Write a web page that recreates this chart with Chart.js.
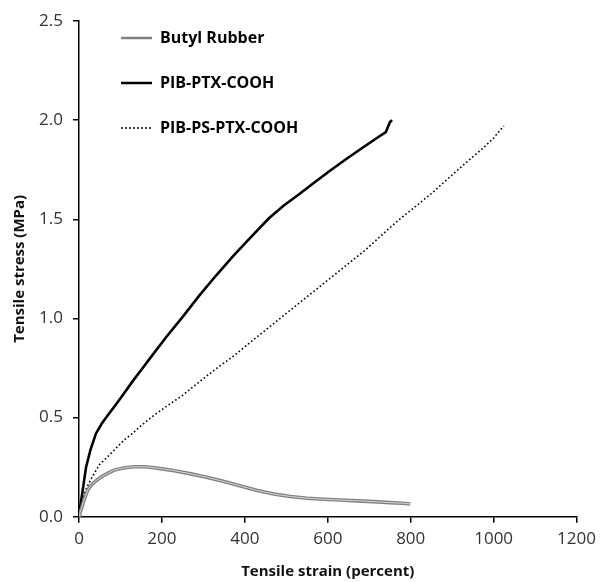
<!DOCTYPE html>
<html lang="en">
  <head>
    <meta charset="UTF-8" />
    <title>Tensile stress vs strain</title>
    <script src="https://cdn.jsdelivr.net/npm/chart.js"></script>
    <style>
      html, body { margin: 0; padding: 0; background: #fff; }
      .wrap { width: 602px; height: 582px; }
    </style>
  </head>
  <body>
    <div class="wrap"><canvas id="stressChart"></canvas></div>

    <script>
      // series names
      const seriesNames = ["Butyl Rubber", "PIB-PTX-COOH", "PIB-PS-PTX-COOH"];

      // Butyl Rubber (strain %, stress MPa)
      const butylStrain = [0, 2, 5, 10, 15, 21, 30, 40, 53, 70, 85, 110, 133, 160, 181, 205, 230, 270, 310, 350, 390, 430, 470, 510, 550, 590, 630, 670, 710, 750, 780, 799];
      const butylStress = [0, 0.02, 0.034, 0.07, 0.1, 0.135, 0.16, 0.18, 0.2, 0.22, 0.235, 0.247, 0.252, 0.252, 0.247, 0.24, 0.232, 0.216, 0.198, 0.177, 0.155, 0.132, 0.114, 0.102, 0.093, 0.088, 0.084, 0.08, 0.076, 0.071, 0.068, 0.064];

      // PIB-PTX-COOH
      const ptxStrain = [0, 3, 8, 17, 28, 41, 55, 69, 85, 101, 130, 150, 177, 210, 250, 290, 330, 370, 410, 458, 494, 530, 566, 602, 642, 682, 722, 740, 750, 755];
      const ptxStress = [0, 0.05, 0.12, 0.25, 0.34, 0.42, 0.47, 0.51, 0.555, 0.6, 0.685, 0.74, 0.815, 0.905, 1.008, 1.115, 1.215, 1.31, 1.4, 1.505, 1.57, 1.625, 1.683, 1.74, 1.8, 1.858, 1.915, 1.94, 1.99, 2.0];

      // PIB-PS-PTX-COOH
      const psStrain = [0, 5, 13, 24, 37, 49, 69, 89, 109, 129, 150, 180, 210, 250, 290, 330, 370, 410, 450, 490, 530, 570, 610, 650, 690, 730, 770, 810, 850, 890, 931, 975, 1000, 1019, 1025];
      const psStress = [0, 0.05, 0.118, 0.17, 0.219, 0.262, 0.302, 0.345, 0.387, 0.42, 0.46, 0.51, 0.555, 0.612, 0.68, 0.745, 0.806, 0.874, 0.941, 1.008, 1.076, 1.143, 1.21, 1.277, 1.344, 1.42, 1.495, 1.562, 1.63, 1.705, 1.781, 1.86, 1.91, 1.958, 1.97];

      // axis ticks
      const xTicks = [0, 200, 400, 600, 800, 1000, 1200];
      const yTicks = [0, 0.5, 1.0, 1.5, 2.0, 2.5];

      const toPoints = (xs, ys) => xs.map((x, i) => ({ x: x, y: ys[i] }));

      const fontFamily = "'Open Sans', sans-serif";

      // moves the legend to the top-left corner of the plot
      const legendSpot = {
        id: "legendSpot",
        afterLayout(chart) {
          const lg = chart.legend;
          const pad = lg.options.labels.padding;
          lg.left = 121 - pad;
          lg.top = 30 - pad;
        },
      };

      const ctx = document.getElementById("stressChart").getContext("2d");
      const stressChart = new Chart(ctx, {
        type: "line",
        data: {
          datasets: [
            {
              // light core of the butyl double line
              label: "",
              data: toPoints(butylStrain, butylStress),
              borderColor: "#d6d6d6",
              borderWidth: 1,
              pointRadius: 0,
            },
            {
              label: seriesNames[0],
              data: toPoints(butylStrain, butylStress),
              borderColor: "#808080",
              borderWidth: 3.6,
              pointRadius: 0,
            },
            {
              label: seriesNames[1],
              data: toPoints(ptxStrain, ptxStress),
              borderColor: "#000000",
              borderWidth: 2.6,
              pointRadius: 0,
            },
            {
              label: seriesNames[2],
              data: toPoints(psStrain, psStress),
              borderColor: "#000000",
              borderWidth: 1.6,
              borderDash: [1.6, 2.4],
              pointRadius: 0,
            },
          ],
        },
        options: {
          responsive: true,
          maintainAspectRatio: false,
          animation: false,
          layout: {
            padding: { left: 0, top: 21, right: 24, bottom: 0 },
          },
          plugins: {
            tooltip: { enabled: false },
            legend: {
              position: "chartArea",
              align: "start",
              labels: {
                boxWidth: 31,
                boxHeight: 0,
                padding: 29,
                color: "#000",
                font: { family: fontFamily, size: 16, weight: "bold" },
                filter: (item) => item.datasetIndex !== 0,
                generateLabels(chart) {
                  const items = Chart.defaults.plugins.legend.labels.generateLabels(chart);
                  items.forEach((it) => {
                    it.fillStyle = "rgba(0,0,0,0)";
                    if (it.datasetIndex === 1) it.lineWidth = 2.4;
                    if (it.datasetIndex === 2) it.lineWidth = 2.4;
                    if (it.datasetIndex === 3) it.lineWidth = 1.4;
                  });
                  return items;
                },
              },
            },
          },
          scales: {
            x: {
              type: "linear",
              min: 0,
              max: 1200,
              afterBuildTicks(scale) {
                scale.ticks = xTicks.map((v) => ({ value: v }));
              },
              afterFit(scale) {
                scale.height = 65.3;
              },
              border: { color: "#000", width: 1.5 },
              grid: {
                drawOnChartArea: false,
                drawTicks: true,
                tickLength: 6,
                color: "#000",
                lineWidth: 1.5,
              },
              ticks: {
                padding: 6,
                color: "#333",
                font: { family: fontFamily, size: 17 },
                callback: (v) => String(v),
              },
              title: {
                display: true,
                text: "Tensile strain (percent)",
                color: "#111",
                font: { family: fontFamily, size: 15, weight: "bold" },
                padding: { top: 0, bottom: 1 },
              },
            },
            y: {
              type: "linear",
              min: 0,
              max: 2.5,
              afterBuildTicks(scale) {
                scale.ticks = yTicks.map((v) => ({ value: v }));
              },
              afterFit(scale) {
                scale.width = 79;
              },
              border: { color: "#000", width: 1.5 },
              grid: {
                drawOnChartArea: false,
                drawTicks: true,
                tickLength: 6,
                color: "#000",
                lineWidth: 1.5,
              },
              ticks: {
                padding: 10,
                color: "#333",
                font: { family: fontFamily, size: 17 },
                callback: (v) => Number(v).toFixed(1),
              },
              title: {
                display: true,
                text: "Tensile stress (MPa)",
                color: "#111",
                font: { family: fontFamily, size: 15, weight: "bold" },
                padding: { top: 11, bottom: 0 },
              },
            },
          },
        },
        plugins: [legendSpot],
      });
    </script>
  </body>
</html>
